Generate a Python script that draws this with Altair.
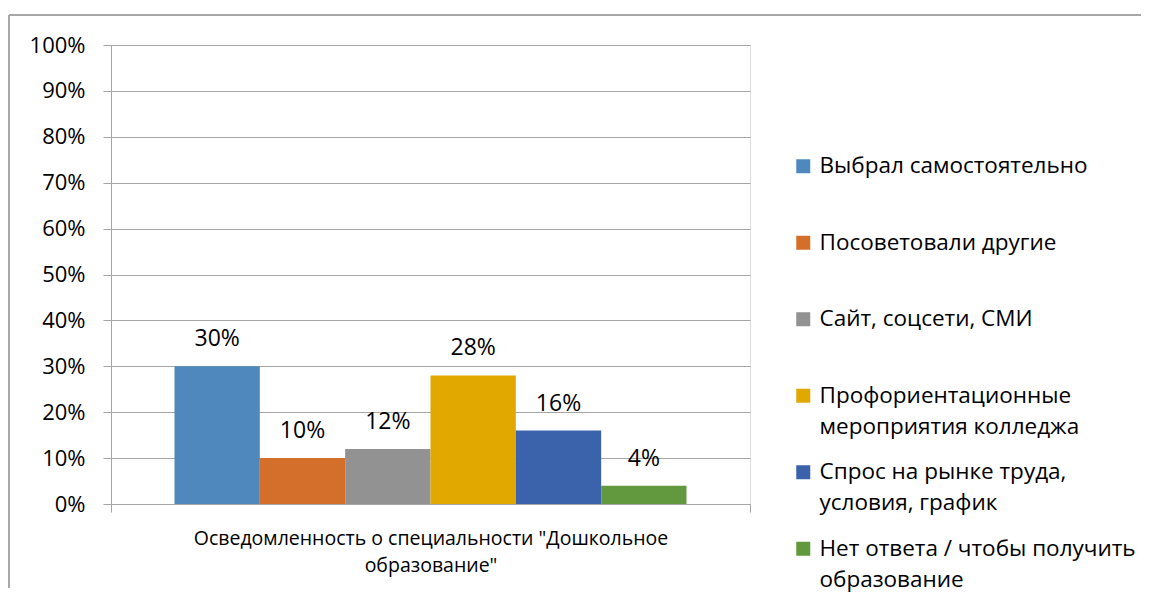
import altair as alt
import pandas as pd

FONT = "Open Sans"

CATEGORY = 'Осведомленность о специальности "Дошкольное\nобразование"'
SERIES = [
    "Выбрал самостоятельно",
    "Посоветовали другие",
    "Сайт, соцсети, СМИ",
    "Профориентационные\nмероприятия колледжа",
    "Спрос на рынке труда,\nусловия, график",
    "Нет ответа / чтобы получить\nобразование",
]
VALUES = [30, 10, 12, 28, 16, 4]
COLORS = ["#4F88BC", "#D46F2B", "#929292", "#E1A800", "#3A63AC", "#62993E"]
Y_TICKS = [0, 10, 20, 30, 40, 50, 60, 70, 80, 90, 100]

GRAY = "#A6A6A6"

df = pd.DataFrame({"cat": [CATEGORY] * len(SERIES), "series": SERIES, "value": VALUES})

base = alt.Chart(df).encode(
    x=alt.X(
        "cat:N",
        title=None,
        scale=alt.Scale(paddingInner=0, paddingOuter=0),
        axis=alt.Axis(
            labelExpr="split(datum.label, '\\n')",
            labelAngle=0,
            labelFont=FONT,
            labelFontSize=19.5,
            labelColor="#000000",
            labelLineHeight=27,
            labelPadding=17,
            labelLimit=800,
            tickBand="extent",
            tickSize=8,
            tickColor=GRAY,
            domainColor=GRAY,
            grid=False,
        ),
    ),
    xOffset=alt.XOffset(
        "series:N", sort=SERIES, scale=alt.Scale(paddingInner=0, paddingOuter=0.744)
    ),
    y=alt.Y(
        "value:Q",
        title=None,
        scale=alt.Scale(domain=[0, 100], nice=False),
        axis=alt.Axis(
            values=Y_TICKS,
            labelExpr="datum.value + '%'",
            labelFont=FONT,
            labelFontSize=22,
            labelColor="#000000",
            labelPadding=18,
            tickSize=8,
            tickColor=GRAY,
            domainColor=GRAY,
            gridColor=GRAY,
            grid=True,
        ),
    ),
)

bars = base.mark_bar().encode(
    color=alt.Color(
        "series:N",
        sort=SERIES,
        scale=alt.Scale(domain=SERIES, range=COLORS),
        legend=alt.Legend(
            title=None,
            orient="none",
            legendX=681,
            legendY=110,
            symbolType="square",
            symbolSize=196,
            symbolStrokeWidth=0,
            labelFont=FONT,
            labelFontSize=22.5,
            labelColor="#000000",
            labelLimit=600,
            labelOffset=5,
            labelBaseline="middle",
            labelExpr="split(datum.label, '\\n')",
            gridAlign="all",
            rowPadding=22.5,
        ),
    )
)

labels = (
    base.transform_calculate(lbl="datum.value + '%'")
    .mark_text(font=FONT, fontSize=23, color="#000000", baseline="alphabetic", dy=-20)
    .encode(text="lbl:N")
)

border_top = alt.Chart(df).mark_rule(color=GRAY, strokeWidth=1).encode(
    x=alt.value(-102), x2=alt.value(1030), y=alt.value(-30)
)
border_left = alt.Chart(df).mark_rule(color=GRAY, strokeWidth=1).encode(
    x=alt.value(-102), y=alt.value(-30), y2=alt.value(543)
)

chart = (
    alt.layer(border_top, border_left, bars, labels)
    .properties(width=639, height=459, padding={"left": 0, "top": 6, "right": 0, "bottom": 0})
    .configure_view(stroke=None)
    .configure(style={"guide-label": {"lineHeight": 31}})
)

chart.save("out.html", embed_options={"renderer": "svg", "actions": False})
